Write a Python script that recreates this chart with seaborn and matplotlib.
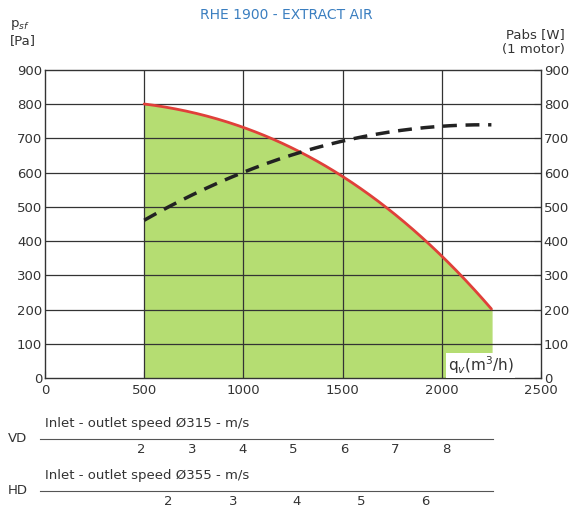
import matplotlib
matplotlib.use("Agg")
import matplotlib.pyplot as plt
import seaborn as sns
import numpy as np
import pandas as pd

flow = [500, 750, 1000, 1250, 1500, 1750, 2000, 2250]
pressure = [800, 775, 735, 670, 585, 485, 360, 200]
power = [460, 540, 600, 650, 695, 720, 735, 740]
vd_ticks = [2, 3, 4, 5, 6, 7, 8]
hd_ticks = [2, 3, 4, 5, 6]

sns.set_style("white")
plt.rcParams['font.family'] = ['DejaVu Sans']
fig = plt.figure(figsize=(5.73, 5.12), dpi=100)
W, H = 573, 512
ax = fig.add_axes([45/W, (H-378)/H, 496/W, 308/H])
xs = np.linspace(500, 2250, 200)
xf = np.polyval(np.polyfit(flow, pressure, 3), xs)
ax.fill_between(xs, 0, xf, color="#b5dd72", zorder=1)
ax.plot(xs, xf, color="#e0403a", lw=2, zorder=3)
ax.plot(xs, np.polyval(np.polyfit(flow, power, 3), xs), color="#222222", lw=2.5, ls=(0, (4, 2.5)), zorder=3)
ax.set_xlim(0, 2500); ax.set_ylim(0, 900)
ax.set_xticks([0, 500, 1000, 1500, 2000, 2500])
ax.set_xticks(np.arange(0, 2501, 100), minor=True)
ax.set_yticks(np.arange(0, 901, 100))
for y in range(100, 900, 100):
    ax.axhline(y, color="#333", lw=0.9, zorder=2)
for x in [500, 1000, 1500, 2000]:
    ax.axvline(x, color="#333", lw=0.9, zorder=2)
for s in ax.spines.values():
    s.set_color("#333"); s.set_linewidth(1)
ax.tick_params(axis="both", which="both", direction="in", color="#333", labelsize=9.5, labelcolor="#333", pad=2)
ax.tick_params(which="major", length=5); ax.tick_params(which="minor", length=5)
ax.tick_params(axis="y", right=True, labelright=True)
ax.tick_params(axis="x", top=False, bottom=True, pad=4)
ax.text(2030, 20, "q$_v$(m$^3$/h)", fontsize=11, color="#333", bbox=dict(facecolor="white", edgecolor="none", pad=1), zorder=4)
fig.text(0.5, 0.962, "RHE 1900 - EXTRACT AIR", ha="center", color="#3a7ec0", fontsize=10)
fig.text(10/W, 1-33/H, "p$_{sf}$\n[Pa]", fontsize=9.5, color="#333", va="center")
fig.text(565/W, 1-42/H, "Pabs [W]\n(1 motor)", fontsize=9.5, color="#333", ha="right", va="center")

def speed_axis(ybot, lim, ticks, label, side):
    a = fig.add_axes([40/W, ybot/H, 453/W, 0.001])
    a.set_xlim(0, lim); a.set_ylim(0, 1)
    for k in ["left", "right", "top"]:
        a.spines[k].set_visible(False)
    a.spines["bottom"].set_color("#555")
    a.set_yticks([]); a.set_xticks(ticks)
    a.tick_params(axis="x", direction="in", length=5, color="#555", labelsize=9.5, labelcolor="#333", pad=3)
    a.set_facecolor("none")
    fig.text(45/W, (ybot+12)/H, label, fontsize=9.5, color="#333")
    fig.text(8/W, (ybot)/H, side, fontsize=9.5, color="#333", va="center")

speed_axis(H-439, 8.93, vd_ticks, "Inlet - outlet speed Ø315 - m/s", "VD")
speed_axis(H-491, 7.05, hd_ticks, "Inlet - outlet speed Ø355 - m/s", "HD")
fig.savefig("out.png", dpi=100)
